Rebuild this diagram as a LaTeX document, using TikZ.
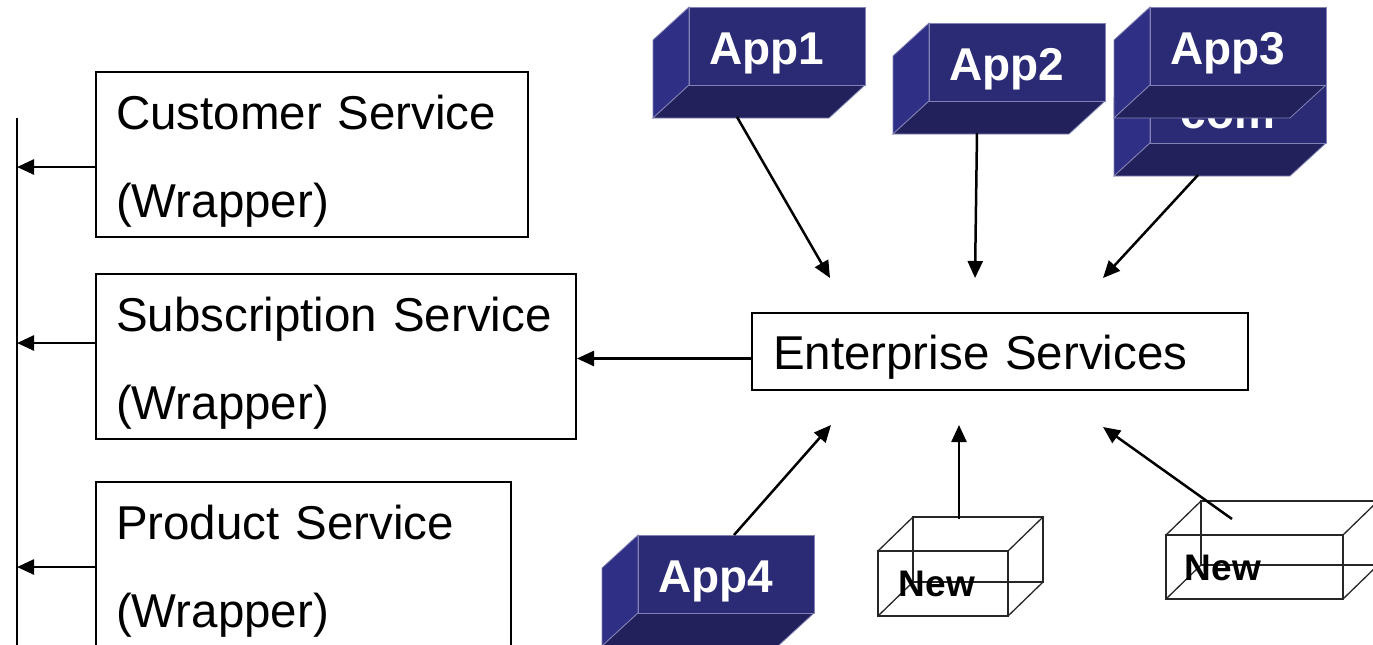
\documentclass[tikz,border=0pt]{standalone}
\usepackage{fontspec}
\setmainfont{Liberation Sans}
\usetikzlibrary{arrows.meta}

\definecolor{appfront}{RGB}{42,42,117}
\definecolor{appside}{RGB}{47,47,134}
\definecolor{appbottom}{RGB}{34,33,92}
\definecolor{appedge}{RGB}{130,130,180}

\tikzset{
  arr/.style={line width=2.5pt, -{Triangle[length=17pt,width=15pt]}},
  svc/.style={draw, line width=2pt, align=left, anchor=north west, inner xsep=20pt, inner ysep=0pt, font=\fontsize{47.5}{88}\selectfont},
  applabel/.style={text=white, font=\fontsize{46}{50}\selectfont\bfseries, text height=33pt, text depth=0pt, inner sep=0pt},
  newlabel/.style={font=\fontsize{37}{40}\selectfont\bfseries, text height=27pt, text depth=0pt, inner sep=0pt},
  wire/.style={line width=1.3pt, draw=black!85},
}

% solid 3d app box: name, x, y of front face top left, label
\newcommand{\appbox}[4]{
  \filldraw[fill=appside, draw=appedge, line width=0.8pt] (#2,#3) -- (#2-36,#3+33) -- (#2-36,#3+111) -- (#2,#3+78) -- cycle;
  \filldraw[fill=appbottom, draw=appedge, line width=0.8pt] (#2,#3+78) -- (#2+176,#3+78) -- (#2+140,#3+111) -- (#2-36,#3+111) -- cycle;
  \filldraw[fill=appfront, draw=appedge, line width=0.8pt] (#2,#3) rectangle (#2+176,#3+78);
  \node[applabel] (#1) at (#2+78,#3+41) {#4};
  \coordinate (#1-b) at (#2+48,#3+110);
  \coordinate (#1-t) at (#2+96,#3);
}

% empty wire box: x, y of front face top left, width, height
\newcommand{\wirebox}[4]{
  \draw[wire] (#1+35,#2-34) rectangle (#1+#3+35,#2+#4-34);
  \draw[wire] (#1,#2) -- (#1+35,#2-34) (#1+#3,#2) -- (#1+#3+35,#2-34)
    (#1,#2+#4) -- (#1+35,#2+#4-34) (#1+#3,#2+#4) -- (#1+#3+35,#2+#4-34);
  \draw[wire] (#1,#2) rectangle (#1+#3,#2+#4);
}

\begin{document}
\begin{tikzpicture}[x=1pt, y=-1pt]
  \useasboundingbox (0,0) rectangle (1373,645);
  \clip (0,0) rectangle (1373,645);

  % wrappers
  \node[svc, text width=392pt] (cust) at (95,71) {\rule{0pt}{57pt}Customer Service\\(Wrapper)\rule[-20pt]{0pt}{20pt}};
  \node[svc, text width=440pt] (sub) at (95,273) {\rule{0pt}{57pt}Subscription Service\\(Wrapper)\rule[-20pt]{0pt}{20pt}};
  \node[svc, text width=375pt] (prod) at (95,481) {\rule{0pt}{57pt}Product Service\\(Wrapper)\rule[-26pt]{0pt}{26pt}};

  \coordinate (bus-top) at (17,118);
  \coordinate (bus-bot) at (17,648);
  \coordinate (bus1) at (17,167);
  \coordinate (bus2) at (17,343);
  \coordinate (bus3) at (17,567);
  \draw[line width=2pt] (bus-top) -- (bus-bot);
  \draw[arr] (bus1 -| cust.west) -- (bus1);
  \draw[arr] (bus2 -| sub.west) -- (bus2);
  \draw[arr] (bus3 -| prod.west) -- (bus3);

  \node[draw, line width=2pt, anchor=north west, align=left, text width=454pt, inner xsep=21pt, inner ysep=0pt,
    text height=56pt, text depth=21pt, font=\fontsize{47.5}{57}\selectfont] (ent) at (751,312) {Enterprise Services};

  \coordinate (eout) at ([yshift=-7pt]ent.west);
  \draw[arr] (eout) -- (eout -| sub.east);

  % apps
  \appbox{app1}{689}{7}{App1}
  \appbox{app2}{929}{23}{App2}
  \appbox{com}{1150}{65}{\raisebox{-6pt}{com}}
  \appbox{app3}{1150}{7}{App3}
  \appbox{app4}{638}{535}{App4}

  \wirebox{878}{551}{130}{65}
  \node[newlabel] (new1) at (937,583) {New};
  \coordinate (new1-t) at (959,519);
  \wirebox{1166}{535}{177}{64}
  \node[newlabel] (new2) at (1223,567) {New};
  \coordinate (new2-t) at (1232,519);

  \coordinate (ent-in1) at ([shift={(79,-34)}]ent.north west);
  \coordinate (ent-in2) at ([shift={(224,-34)}]ent.north west);
  \coordinate (ent-in3) at ([shift={(352,-34)}]ent.north west);
  \coordinate (ent-in4) at ([shift={(80,34)}]ent.south west);
  \coordinate (ent-in5) at ([shift={(208,34)}]ent.south west);
  \coordinate (ent-in6) at ([shift={(352,36)}]ent.south west);

  \draw[arr] (app1-b) -- (ent-in1);
  \draw[arr] (app2-b) -- (ent-in2);
  \draw[arr] (com-b) -- (ent-in3);
  \draw[arr] (app4-t) -- (ent-in4);
  \draw[arr] (new1-t) -- (ent-in5);
  \draw[arr] (new2-t) -- (ent-in6);
\end{tikzpicture}
\end{document}
